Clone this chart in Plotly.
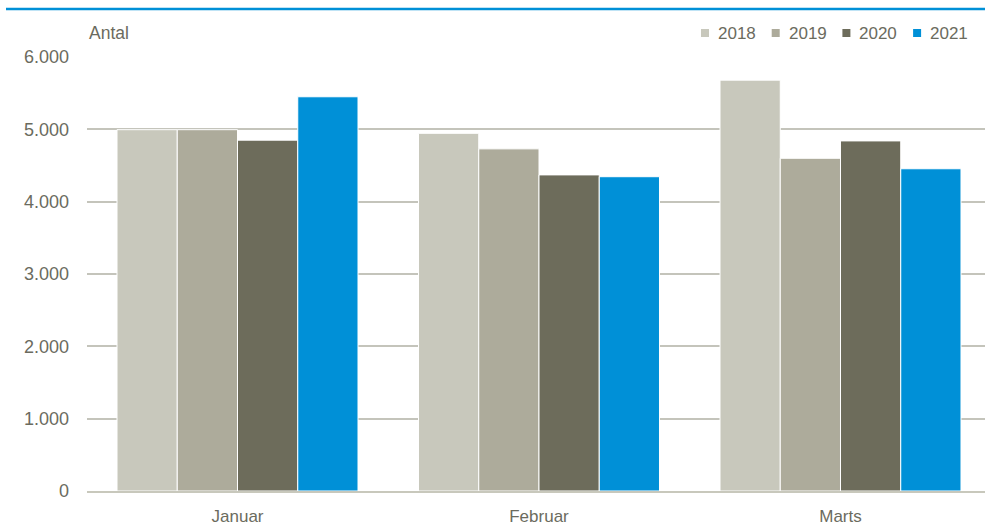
import plotly.graph_objects as go

categories = ["Januar", "Februar", "Marts"]
years = ["2018", "2019", "2020", "2021"]
values = {
    "2018": [4995, 4945, 5680],
    "2019": [4995, 4730, 4600],
    "2020": [4850, 4370, 4840],
    "2021": [5450, 4345, 4455],
}
colors = {"2018": "#c8c8bc", "2019": "#adab9b", "2020": "#6d6c5b", "2021": "#0090d7"}

FONT = "Liberation Sans, Arial, sans-serif"
TXT = "#6b6b5e"

fig = go.Figure()
for y in years:
    fig.add_trace(go.Bar(
        name=y, x=categories, y=values[y],
        marker=dict(color=colors[y], line=dict(color="white", width=1)),
        showlegend=False,
    ))

W, H = 985, 526
L, R, T, B = 87, 0, 57, 35
ph = H - T - B
pw = W - L - R


def px(x):
    return (x - L) / pw


def py(y):
    return (H - B - y) / ph


shapes = [dict(type="line", xref="paper", yref="paper",
               x0=px(6), x1=1.0, y0=py(9), y1=py(9),
               line=dict(color="#0090d7", width=2.5))]
annotations = [dict(text="Antal", xref="paper", yref="paper", x=px(87), xanchor="left",
                    y=py(33), yanchor="middle", showarrow=False,
                    font=dict(family=FONT, size=17.5, color=TXT))]

# manual legend
leg_x0, pitch, sq = 701, 70.7, 8
for i, yname in enumerate(years):
    x0 = leg_x0 + i * pitch
    shapes.append(dict(type="rect", xref="paper", yref="paper",
                       x0=px(x0), x1=px(x0 + sq), y0=py(33 + sq / 2), y1=py(33 - sq / 2),
                       fillcolor=colors[yname], line=dict(width=0)))
    annotations.append(dict(text=yname, xref="paper", yref="paper", x=px(x0 + 15), xanchor="left",
                            y=py(33), yanchor="middle", showarrow=False,
                            font=dict(family=FONT, size=17, color=TXT)))

fig.update_layout(
    width=W, height=H,
    margin=dict(l=L, r=R, t=T, b=B, pad=0),
    paper_bgcolor="white", plot_bgcolor="white",
    barmode="group", bargap=0.2007, bargroupgap=0.0,
    separators=",.",
    font=dict(family=FONT, size=17, color=TXT),
    showlegend=False,
    xaxis=dict(range=[-0.4992, 2.4793], showgrid=False, showline=True, linecolor="#c8c8bc", linewidth=2,
               ticks="", ticklabelstandoff=9, tickfont=dict(family=FONT, size=17, color=TXT)),
    yaxis=dict(range=[0, 6000], dtick=1000, tickformat=",", showgrid=True,
               gridcolor="#c4c4bb", gridwidth=1.5, zeroline=False, showline=False,
               ticks="", ticklabelstandoff=17, tickfont=dict(family=FONT, size=18, color=TXT)),
    shapes=shapes,
    annotations=annotations,
)

fig.write_html("out.html", config={"displayModeBar": False},
               post_script="document.body.style.margin='0';document.body.style.overflow='hidden';")
